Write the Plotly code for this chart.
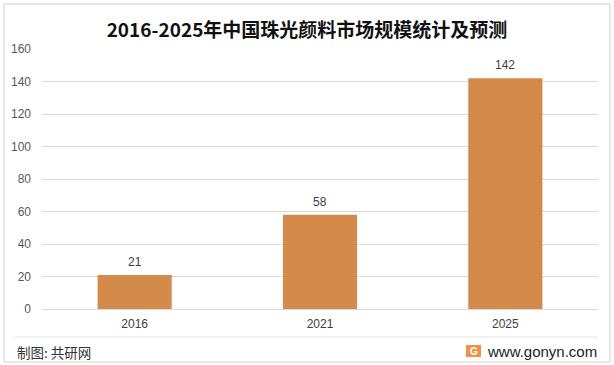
import plotly.graph_objects as go

years = ["2016", "2021", "2025"]
values = [21, 58, 142]
title_text = "2016-2025年中国珠光颜料市场规模统计及预测"
source_text = "制图: 共研网"
site_text = "www.gonyn.com"

W, H = 614, 365
L, R, T, B = 42, 16, 49, 56
pw, ph = W - L - R, H - T - B

def px(x):
    return (x - L) / pw

def py(y):
    return (H - B - y) / ph

fig = go.Figure(go.Bar(
    x=years, y=values,
    marker=dict(color="#D48A4B", line=dict(width=0)),
    hoverinfo="x+y",
))

# value labels: category index positions on the category axis
label_annots = [
    dict(x=i, y=v, xref="x", yref="y", text=str(v), showarrow=False,
         xanchor="center", yanchor="bottom", yshift=4,
         font=dict(size=12, color="#404040", family="Liberation Sans, Arial"))
    for i, v in enumerate(values)
]

fig.update_layout(
    width=W, height=H,
    margin=dict(l=L, r=R, t=T, b=B),
    paper_bgcolor="white", plot_bgcolor="white",
    bargap=0.6,
    showlegend=False,
    font=dict(family="Liberation Sans, Arial", size=12, color="#595959"),
    title=dict(text="<b>" + title_text + "</b>", x=0.5, xanchor="center",
               xref="container", y=1 - 30 / H, yanchor="middle",
               font=dict(size=19, color="#111111", family="Noto Sans CJK SC")),
    xaxis=dict(type="category", categoryorder="array", categoryarray=years,
               showgrid=False, showline=True, linecolor="#D9D9D9", linewidth=1,
               ticks="", ticklabelstandoff=4,
               tickfont=dict(size=12, color="#404040")),
    yaxis=dict(range=[0, 160], dtick=20, showgrid=True, gridcolor="#D9D9D9",
               gridwidth=1, zeroline=False, showline=False, ticks="",
               ticklabelstandoff=10,
               tickfont=dict(size=12, color="#595959")),
    shapes=[
        dict(type="rect", xref="paper", yref="paper",
             x0=px(4), x1=px(610), y0=py(362), y1=py(4),
             line=dict(color="#D0D0D0", width=1), layer="below"),
        dict(type="line", xref="paper", yref="paper",
             x0=px(15), x1=px(598), y0=py(337), y1=py(337),
             line=dict(color="#E3E3E3", width=1)),
        dict(type="rect", xref="paper", yref="paper",
             x0=px(466), x1=px(481), y0=py(357), y1=py(345),
             fillcolor="#F0914A", line=dict(width=0)),
    ],
    annotations=label_annots + [
        dict(text=source_text, xref="paper", yref="paper", x=px(15), y=py(352),
             xanchor="left", yanchor="middle", showarrow=False,
             font=dict(size=13.5, color="#333333", family="Noto Sans CJK SC")),
        dict(text=site_text, xref="paper", yref="paper", x=px(599), y=py(351),
             xanchor="right", yanchor="middle", showarrow=False,
             font=dict(size=15, color="#222222", family="Liberation Sans, Arial")),
        dict(text="<b>G</b>", xref="paper", yref="paper", x=px(473.5), y=py(351),
             xanchor="center", yanchor="middle", showarrow=False,
             font=dict(size=10, color="white", family="Liberation Sans, Arial")),
    ],
)

fig.write_html("out.html", config={"displayModeBar": False},
               post_script="document.body.style.margin='0';document.body.style.overflow='hidden';")
